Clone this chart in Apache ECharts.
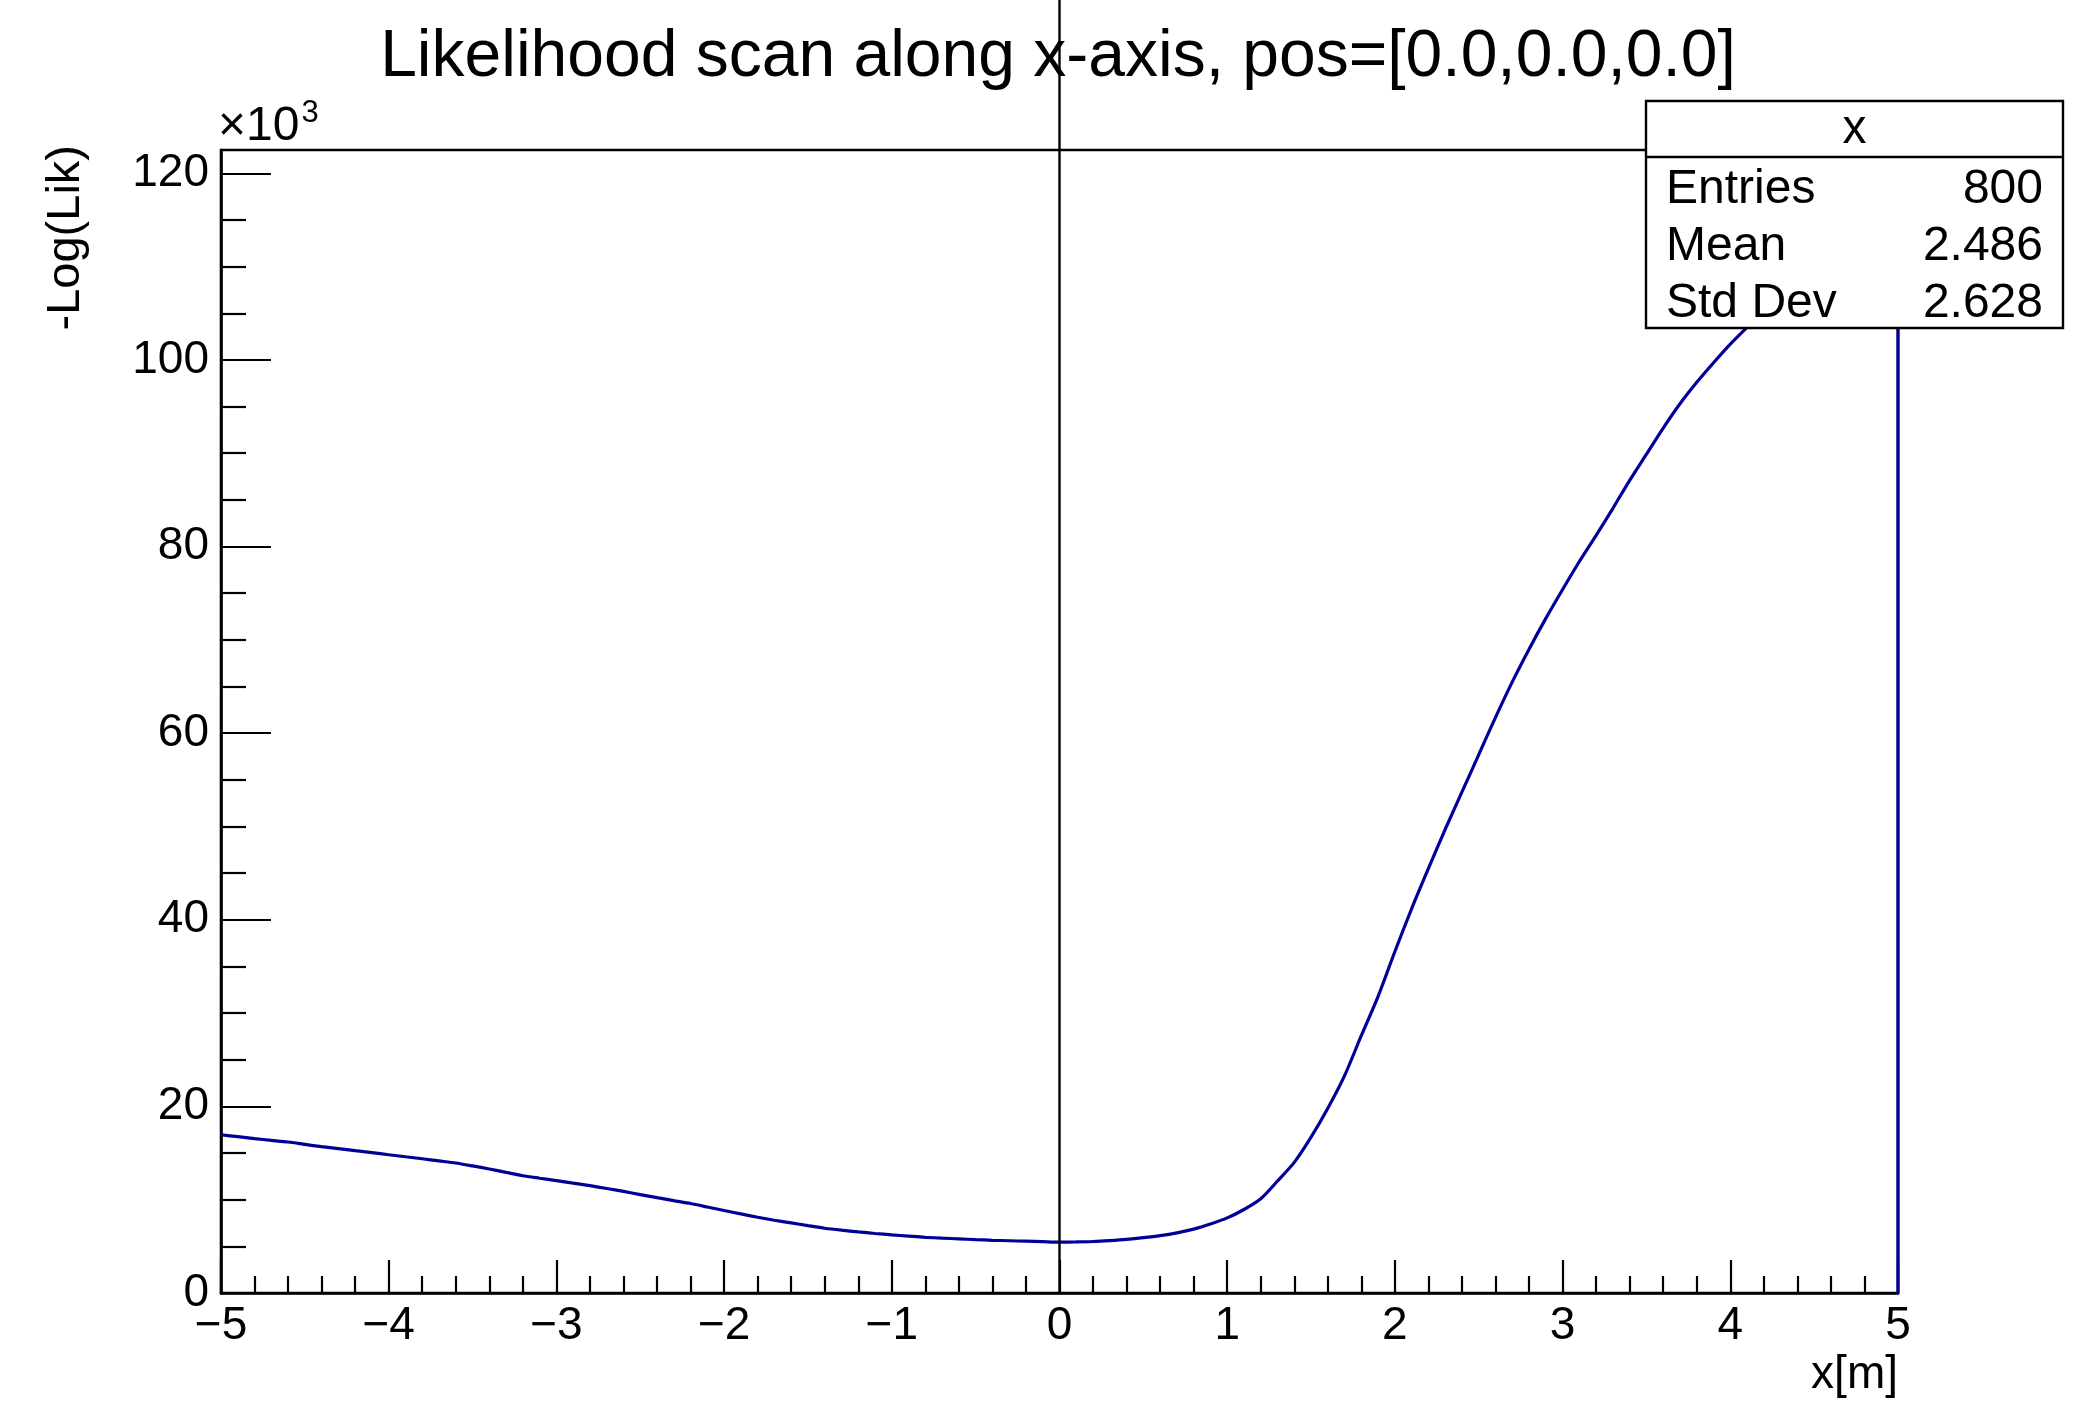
<!DOCTYPE html>
<html>
<head>
<meta charset="utf-8">
<title>Likelihood scan</title>
<script src="https://cdn.jsdelivr.net/npm/echarts@6/dist/echarts.min.js"></script>
<style>
  html, body { margin: 0; padding: 0; background: #fff; }
  #chart { width: 2075px; height: 1402px; }
</style>
</head>
<body>
<div id="chart"></div>
<script>
// Scan positions along x [m]
const xPos = [
  -5.0, -4.9, -4.8, -4.7, -4.6, -4.5, -4.4, -4.3, -4.2, -4.1,
  -4.0, -3.9, -3.8, -3.7, -3.6, -3.5, -3.4, -3.3, -3.2, -3.1,
  -3.0, -2.9, -2.8, -2.7, -2.6, -2.5, -2.4, -2.3, -2.2, -2.1,
  -2.0, -1.9, -1.8, -1.7, -1.6, -1.5, -1.4, -1.3, -1.2, -1.1,
  -1.0, -0.9, -0.8, -0.7, -0.6, -0.5, -0.4, -0.3, -0.2, -0.1,
   0.0,  0.1,  0.2,  0.3,  0.4,  0.5,  0.6,  0.7,  0.8,  0.9,
   1.0,  1.1,  1.2,  1.3,  1.4,  1.5,  1.6,  1.7,  1.8,  1.9,
   2.0,  2.1,  2.2,  2.3,  2.4,  2.5,  2.6,  2.7,  2.8,  2.9,
   3.0,  3.1,  3.2,  3.3,  3.4,  3.5,  3.6,  3.7,  3.8,  3.9,
   4.0,  4.1,  4.2,  4.3,  4.4,  4.5,  4.6,  4.7,  4.8,  4.9,
   5.0
];

// -Log(Lik) in units of 10^3
const negLogLik = [
  16.96, 16.75, 16.54, 16.36, 16.18, 15.93, 15.68, 15.47, 15.25, 15.04,
  14.82, 14.60, 14.39, 14.16, 13.93, 13.62, 13.29, 12.93, 12.57, 12.30,
  12.04, 11.77, 11.50, 11.20, 10.89, 10.55, 10.22,  9.90,  9.59,  9.22,
   8.84,  8.48,  8.12,  7.80,  7.51,  7.22,  6.94,  6.73,  6.55,  6.38,
   6.23,  6.10,  5.97,  5.88,  5.80,  5.72,  5.65,  5.60,  5.55,  5.50,
   5.45,  5.47,  5.52,  5.62,  5.75,  5.93,  6.15,  6.45,  6.85,  7.40,
   8.05,  8.95, 10.10, 12.00, 14.00, 16.70, 19.80, 23.30, 27.60, 31.80,
  36.60, 41.20, 45.50, 49.70, 53.70, 57.70, 61.70, 65.50, 69.00, 72.30,
  75.40, 78.40, 81.20, 84.10, 87.10, 89.90, 92.70, 95.30, 97.60, 99.70,
 101.70, 103.50, 105.20, 106.90, 108.50, 110.00, 111.40, 112.70, 114.00, 115.40,
 116.70
];

// Axis tick values
const xTicks = [-5, -4, -3, -2, -1, 0, 1, 2, 3, 4, 5];
const yTicks = [0, 20, 40, 60, 80, 100, 120];

// Statistics box contents
const statsTitle = 'x';
const statsLabels = ['Entries', 'Mean', 'Std Dev'];
const statsValues = ['800', '2.486', '2.628'];

const titleText = 'Likelihood scan along x-axis, pos=[0.0,0.0,0.0]';
const xTitle = 'x[m]';
const yTitle = '-Log(Lik)';
const yAxisMax = 122.5;

const FONT = "'Liberation Sans', Arial, Helvetica, sans-serif";
const LINE_BLUE = '#000099';
const AXIS_W = 2.6;

// Histogram contour and its drop back to zero at the upper edge
const contour = xPos.map((x, i) => [x, negLogLik[i]]);
const lastX = xPos[xPos.length - 1];
const edgeDrop = [[lastX, negLogLik[negLogLik.length - 1]], [lastX, 0]];

const chart = echarts.init(document.getElementById('chart'), null, { renderer: 'canvas' });

const fmtTick = v => String(v).replace('-', '\u2212');

const option = {
  animation: false,
  backgroundColor: '#fff',
  grid: {
    left: 221, right: 177, top: 150, bottom: 109,
    show: true, borderColor: '#000', borderWidth: AXIS_W, backgroundColor: 'transparent'
  },
  xAxis: {
    type: 'value', min: xTicks[0], max: xTicks[xTicks.length - 1], interval: 1,
    axisLine: { show: true, onZero: false, lineStyle: { color: '#000', width: AXIS_W } },
    axisTick: { show: true, inside: true, length: 33, lineStyle: { color: '#000', width: 2.2 } },
    minorTick: { show: true, splitNumber: 5, length: 17, lineStyle: { color: '#000', width: 2.2 } },
    splitLine: { show: false },
    axisLabel: {
      formatter: fmtTick, color: '#000', fontSize: 46, fontFamily: FONT, margin: 10,
      showMinLabel: true, showMaxLabel: true
    }
  },
  yAxis: {
    type: 'value', min: yTicks[0], max: yAxisMax, interval: 20,
    axisLine: { show: true, onZero: false, lineStyle: { color: '#000', width: AXIS_W } },
    axisTick: { show: true, inside: true, length: 50, lineStyle: { color: '#000', width: 2.2 } },
    minorTick: { show: true, splitNumber: 4, length: 25, lineStyle: { color: '#000', width: 2.2 } },
    splitLine: { show: false },
    axisLabel: {
      formatter: v => (yTicks.indexOf(v) >= 0 ? String(v) : ''),
      color: '#000', fontSize: 46, fontFamily: FONT, margin: 12,
      showMaxLabel: false
    }
  },
  series: [
    {
      type: 'line',
      data: contour,
      showSymbol: false,
      symbol: 'none',
      smooth: 0.25,
      clip: false,
      lineStyle: { color: LINE_BLUE, width: 3.2 },
      z: 3
    },
    {
      type: 'line',
      data: edgeDrop,
      showSymbol: false,
      symbol: 'none',
      clip: false,
      lineStyle: { color: LINE_BLUE, width: 3.2 },
      z: 3
    }
  ]
};

chart.setOption(option);

// Vertical guide at x = 0, running from the top of the canvas down to the frame bottom
const x0 = chart.convertToPixel({ xAxisIndex: 0 }, 0);
const yBottom = chart.convertToPixel({ yAxisIndex: 0 }, 0);

const statsBox = { x: 1646, y: 101, w: 417, h: 227, head: 56 };
const rowY = [190, 247, 304];

const graphics = [
  {
    type: 'line', z: 10,
    shape: { x1: x0, y1: 0, x2: x0, y2: yBottom },
    style: { stroke: '#000', lineWidth: 2.4 }
  },
  {
    type: 'text', z: 20, x: 1058, y: 58,
    style: {
      text: titleText, fill: '#000', font: `66px ${FONT}`,
      textAlign: 'center', textVerticalAlign: 'middle'
    }
  },
  {
    type: 'text', z: 20, x: 66, y: 145, rotation: Math.PI / 2,
    style: {
      text: yTitle, fill: '#000', font: `47px ${FONT}`,
      textAlign: 'right', textVerticalAlign: 'middle'
    }
  },
  {
    type: 'text', z: 20, x: 1898, y: 1375,
    style: {
      text: xTitle, fill: '#000', font: `46px ${FONT}`,
      textAlign: 'right', textVerticalAlign: 'middle'
    }
  },
  {
    type: 'text', z: 20, x: 218, y: 124,
    style: {
      text: '{m|\u00d710}{s|3}',
      rich: {
        m: { fontSize: 48, fontFamily: FONT, fill: '#000', verticalAlign: 'bottom' },
        s: { fontSize: 31, fontFamily: FONT, fill: '#000', verticalAlign: 'top', padding: [0, 0, 22, 2] }
      },
      textAlign: 'left', textVerticalAlign: 'middle'
    }
  },
  // Statistics box
  {
    type: 'rect', z: 30,
    shape: { x: statsBox.x, y: statsBox.y, width: statsBox.w, height: statsBox.h },
    style: { fill: '#fff', stroke: '#000', lineWidth: 2.4 }
  },
  {
    type: 'line', z: 31,
    shape: { x1: statsBox.x, y1: statsBox.y + statsBox.head, x2: statsBox.x + statsBox.w, y2: statsBox.y + statsBox.head },
    style: { stroke: '#000', lineWidth: 2.4 }
  },
  {
    type: 'text', z: 32, x: statsBox.x + statsBox.w / 2, y: statsBox.y + statsBox.head / 2 + 1,
    style: { text: statsTitle, fill: '#000', font: `48px ${FONT}`, textAlign: 'center', textVerticalAlign: 'middle' }
  }
];

statsLabels.forEach((lab, i) => {
  graphics.push({
    type: 'text', z: 32, x: 1666, y: rowY[i],
    style: { text: lab, fill: '#000', font: `48px ${FONT}`, textAlign: 'left', textVerticalAlign: 'middle' }
  });
  graphics.push({
    type: 'text', z: 32, x: 2043, y: rowY[i],
    style: { text: statsValues[i], fill: '#000', font: `48px ${FONT}`, textAlign: 'right', textVerticalAlign: 'middle' }
  });
});

chart.setOption({ graphic: graphics });
</script>
</body>
</html>
